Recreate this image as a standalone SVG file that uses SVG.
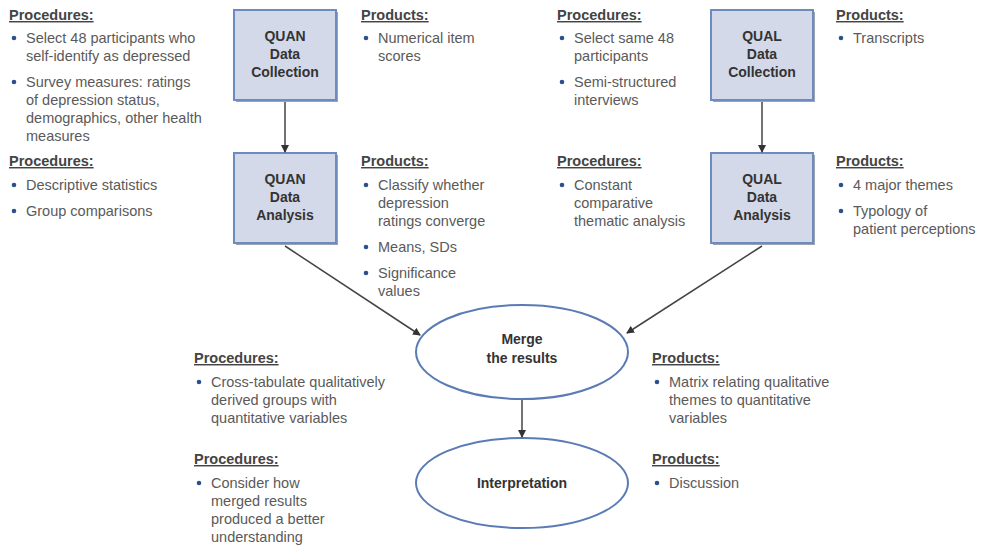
<svg xmlns="http://www.w3.org/2000/svg" width="991" height="550" viewBox="0 0 991 550">
<defs>
<marker id="ah" markerWidth="8" markerHeight="8" refX="7" refY="4" orient="auto" markerUnits="userSpaceOnUse">
<path d="M0,0 L8,4 L0,8 Z" fill="#333"/>
</marker>
</defs>
<style>
.box{fill:#d3d9e8;stroke:#6e8bbf;stroke-width:2}
.shadow{fill:#9aa3b3}
.ell{fill:#fff;stroke:#5b7bb5;stroke-width:2}
.nt{font-family:"Liberation Sans",Arial,sans-serif;font-size:14px;font-weight:bold;fill:#333;text-anchor:middle}
.h{font-family:"Liberation Sans",Arial,sans-serif;font-size:14.5px;font-weight:bold;fill:#444;text-decoration:underline}
.t{font-family:"Liberation Sans",Arial,sans-serif;font-size:14.5px;fill:#5a5a5a}
.b{fill:#2c4f8f}
.c{stroke:#444;stroke-width:1.5;fill:none;marker-end:url(#ah)}
</style>
<rect width="991" height="550" fill="#fff"/>

<g id="quan-collection">
<rect class="shadow" x="236" y="12" width="102" height="90"/>
<rect class="box" x="234" y="10" width="102" height="90"/>
<text class="nt" x="285" y="41">QUAN</text>
<text class="nt" x="285" y="59">Data</text>
<text class="nt" x="285" y="77">Collection</text>
</g>
<g id="quan-analysis">
<rect class="shadow" x="236" y="155" width="102" height="90"/>
<rect class="box" x="234" y="153" width="102" height="90"/>
<text class="nt" x="285" y="184">QUAN</text>
<text class="nt" x="285" y="202">Data</text>
<text class="nt" x="285" y="220">Analysis</text>
</g>
<g id="qual-collection">
<rect class="shadow" x="713" y="12" width="102" height="90"/>
<rect class="box" x="711" y="10" width="102" height="90"/>
<text class="nt" x="762" y="41">QUAL</text>
<text class="nt" x="762" y="59">Data</text>
<text class="nt" x="762" y="77">Collection</text>
</g>
<g id="qual-analysis">
<rect class="shadow" x="713" y="155" width="102" height="90"/>
<rect class="box" x="711" y="153" width="102" height="90"/>
<text class="nt" x="762" y="184">QUAL</text>
<text class="nt" x="762" y="202">Data</text>
<text class="nt" x="762" y="220">Analysis</text>
</g>
<g id="merge">
<ellipse class="ell" cx="522" cy="352" rx="106" ry="47"/>
<text class="nt" x="522" y="344">Merge</text>
<text class="nt" x="522" y="363">the results</text>
</g>
<g id="interpretation">
<ellipse class="ell" cx="522" cy="483" rx="106" ry="45"/>
<text class="nt" x="522" y="488">Interpretation</text>
</g>

<g id="connectors">
<line class="c" x1="285" y1="102" x2="285" y2="152"/>
<line class="c" x1="762" y1="102" x2="762" y2="152"/>
<line class="c" x1="285" y1="246" x2="420" y2="335"/>
<line class="c" x1="762" y1="246" x2="627" y2="333"/>
<line class="c" x1="522" y1="400" x2="522" y2="437"/>
</g>

<g id="quan-collection-procedures">
<text class="h" x="9" y="20">Procedures:</text>
<circle class="b" cx="14" cy="38" r="2.3"/>
<text class="t" x="26" y="43">Select 48 participants who</text>
<text class="t" x="26" y="61">self-identify as depressed</text>
<circle class="b" cx="14" cy="82" r="2.3"/>
<text class="t" x="26" y="87">Survey measures: ratings</text>
<text class="t" x="26" y="105">of depression status,</text>
<text class="t" x="26" y="123">demographics, other health</text>
<text class="t" x="26" y="141">measures</text>
</g>
<g id="quan-analysis-procedures">
<text class="h" x="9" y="166">Procedures:</text>
<circle class="b" cx="14" cy="185" r="2.3"/>
<text class="t" x="26" y="190">Descriptive statistics</text>
<circle class="b" cx="14" cy="211" r="2.3"/>
<text class="t" x="26" y="216">Group comparisons</text>
</g>
<g id="quan-collection-products">
<text class="h" x="361" y="20">Products:</text>
<circle class="b" cx="366" cy="38" r="2.3"/>
<text class="t" x="378" y="43">Numerical item</text>
<text class="t" x="378" y="61">scores</text>
</g>
<g id="quan-analysis-products">
<text class="h" x="361" y="166">Products:</text>
<circle class="b" cx="366" cy="185" r="2.3"/>
<text class="t" x="378" y="190">Classify whether</text>
<text class="t" x="378" y="208">depression</text>
<text class="t" x="378" y="226">ratings converge</text>
<circle class="b" cx="366" cy="247" r="2.3"/>
<text class="t" x="378" y="252">Means, SDs</text>
<circle class="b" cx="366" cy="273" r="2.3"/>
<text class="t" x="378" y="278">Significance</text>
<text class="t" x="378" y="296">values</text>
</g>
<g id="qual-collection-procedures">
<text class="h" x="557" y="20">Procedures:</text>
<circle class="b" cx="562" cy="38" r="2.3"/>
<text class="t" x="574" y="43">Select same 48</text>
<text class="t" x="574" y="61">participants</text>
<circle class="b" cx="562" cy="82" r="2.3"/>
<text class="t" x="574" y="87">Semi-structured</text>
<text class="t" x="574" y="105">interviews</text>
</g>
<g id="qual-analysis-procedures">
<text class="h" x="557" y="166">Procedures:</text>
<circle class="b" cx="562" cy="185" r="2.3"/>
<text class="t" x="574" y="190">Constant</text>
<text class="t" x="574" y="208">comparative</text>
<text class="t" x="574" y="226">thematic analysis</text>
</g>
<g id="qual-collection-products">
<text class="h" x="836" y="20">Products:</text>
<circle class="b" cx="841" cy="38" r="2.3"/>
<text class="t" x="853" y="43">Transcripts</text>
</g>
<g id="qual-analysis-products">
<text class="h" x="836" y="166">Products:</text>
<circle class="b" cx="841" cy="185" r="2.3"/>
<text class="t" x="853" y="190">4 major themes</text>
<circle class="b" cx="841" cy="211" r="2.3"/>
<text class="t" x="853" y="216">Typology of</text>
<text class="t" x="853" y="234">patient perceptions</text>
</g>
<g id="merge-procedures">
<text class="h" x="194" y="363">Procedures:</text>
<circle class="b" cx="199" cy="382" r="2.3"/>
<text class="t" x="211" y="387">Cross-tabulate qualitatively</text>
<text class="t" x="211" y="405">derived groups with</text>
<text class="t" x="211" y="423">quantitative variables</text>
</g>
<g id="merge-products">
<text class="h" x="652" y="363">Products:</text>
<circle class="b" cx="657" cy="382" r="2.3"/>
<text class="t" x="669" y="387">Matrix relating qualitative</text>
<text class="t" x="669" y="405">themes to quantitative</text>
<text class="t" x="669" y="423">variables</text>
</g>
<g id="interpretation-procedures">
<text class="h" x="194" y="464">Procedures:</text>
<circle class="b" cx="199" cy="483" r="2.3"/>
<text class="t" x="211" y="488">Consider how</text>
<text class="t" x="211" y="506">merged results</text>
<text class="t" x="211" y="524">produced a better</text>
<text class="t" x="211" y="542">understanding</text>
</g>
<g id="interpretation-products">
<text class="h" x="652" y="464">Products:</text>
<circle class="b" cx="657" cy="483" r="2.3"/>
<text class="t" x="669" y="488">Discussion</text>
</g>
</svg>
